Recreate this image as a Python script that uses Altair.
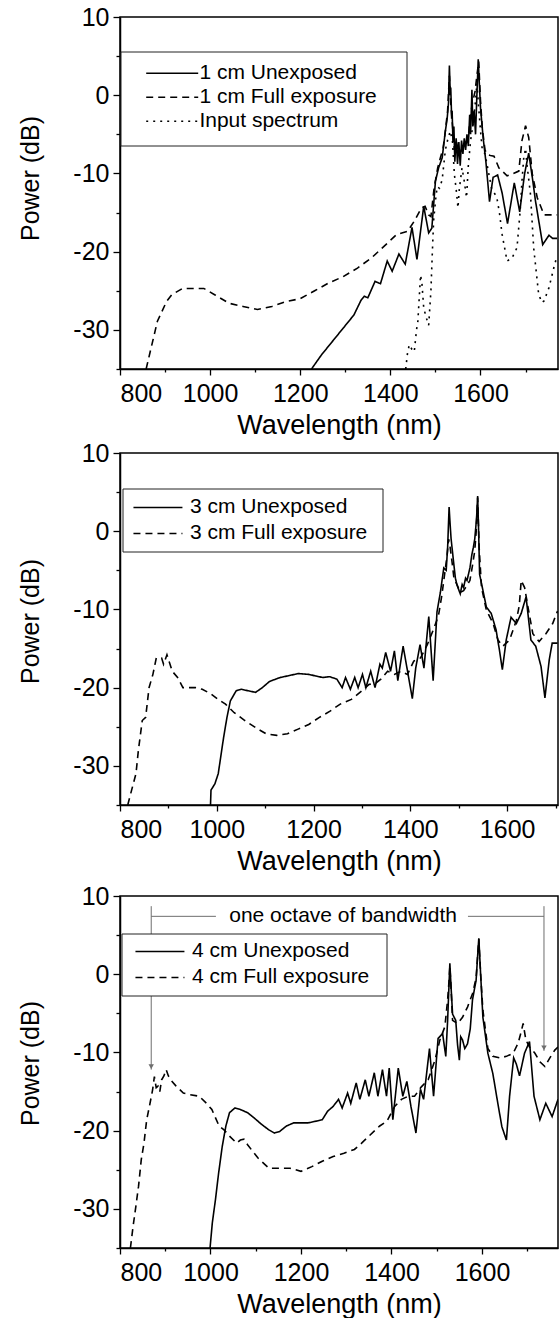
import altair as alt
import pandas as pd

FONT = "Liberation Sans"

# ---------------- Panel 1 (1 cm) ----------------
p1_labels = ["1 cm Unexposed", "1 cm Full exposure", "Input spectrum"]

p1_unexp_nm = [1225, 1247, 1271, 1295, 1319, 1335, 1342, 1350, 1366, 1378, 1393, 1404, 1419, 1433,
               1448, 1459, 1474, 1485, 1492, 1500, 1507, 1515, 1522, 1526, 1529, 1531, 1533, 1534,
               1536, 1537, 1539, 1541, 1543, 1546, 1549, 1552, 1555, 1558, 1561, 1564, 1567, 1570,
               1573, 1576, 1578, 1581, 1583, 1586, 1589, 1592, 1595, 1597, 1600, 1606, 1612, 1620,
               1628, 1638, 1648, 1660, 1675, 1687, 1698, 1707, 1715, 1722, 1738, 1745, 1752, 1760, 1770]
p1_unexp_db = [-35, -33.2, -31.5, -29.8, -28.1, -26.2, -25.7, -25.9, -23.8, -24.1, -21.2, -22.5, -20.3, -21.6,
               -16.9, -21.0, -14.2, -17.6, -17.0, -11.0, -9.3, -8.0, -4.6, -3.0, -1.0, 3.8, 0.0, 1.0,
               -3.0, -2.0, -6.0, -4.0, -8.5, -5.5, -8.8, -6.0, -9.0, -5.8, -7.5, -5.5, -7.0, -5.0,
               -6.5, -2.5, -5.0, 0.7, -4.0, -2.0, -5.0, 0.0, 4.6, 2.0, -1.6, -5.5, -8.5, -13.6,
               -10.5, -10.2, -12.5, -16.4, -11.2, -14.9, -10.0, -7.4, -10.5, -13.5, -19.1, -18.5, -17.9, -18.3, -18.3]

p1_full_nm = [858, 867, 883, 903, 915, 939, 962, 986, 1010, 1042, 1073, 1105, 1137, 1168, 1200, 1232,
              1263, 1295, 1327, 1358, 1390, 1414, 1438, 1453, 1469, 1477, 1485, 1490, 1497, 1505, 1511,
              1517, 1522, 1527, 1531, 1534, 1538, 1542, 1547, 1552, 1556, 1562, 1567, 1572, 1577, 1582,
              1588, 1592, 1596, 1600, 1604, 1610, 1615, 1622, 1630, 1641, 1659, 1673, 1685, 1692, 1700,
              1707, 1715, 1726, 1741, 1755, 1770]
p1_full_db = [-35, -32.8, -28.9, -26.4, -25.5, -24.7, -24.7, -24.7, -25.5, -26.6, -27.0, -27.4, -27.0, -26.4, -26.0, -25.0,
              -24.0, -23.2, -22.1, -20.8, -19.1, -17.8, -17.4, -16.1, -14.4, -14.2, -15.3, -15.5, -11.9, -9.3, -8.0,
              -6.8, -4.6, -2.0, 2.5, -1.0, -4.0, -7.0, -6.0, -7.5, -7.2, -6.5, -6.0, -5.9, -3.0, -1.0,
              0.5, 2.5, 4.3, -0.7, -4.2, -7.0, -7.6, -7.7, -7.8, -9.3, -10.3, -10.0, -9.7, -5.8, -3.9,
              -5.4, -10.1, -13.1, -15.3, -15.3, -15.3]

p1_input_nm = [1434, 1438, 1442, 1448, 1453, 1458, 1461, 1467, 1470, 1474, 1480, 1485, 1490, 1493, 1496,
               1501, 1504, 1509, 1515, 1522, 1528, 1533, 1538, 1542, 1546, 1550, 1553, 1559, 1564, 1569,
               1573, 1578, 1584, 1589, 1592, 1596, 1600, 1604, 1610, 1615, 1625, 1636, 1642, 1648, 1659,
               1670, 1681, 1688, 1692, 1696, 1700, 1703, 1711, 1718, 1729, 1736, 1741, 1752, 1763, 1770]
p1_input_db = [-35, -33.0, -31.9, -32.5, -32.8, -30.0, -28.9, -23.0, -24.0, -27.2, -28.5, -29.4, -25.0, -20.3, -16.0,
               -13.0, -11.7, -11.9, -10.8, -7.0, -5.5, -4.6, -6.0, -10.1, -12.0, -14.4, -12.0, -9.3, -11.0, -13.1,
               -9.0, -5.8, -3.5, -0.7, 1.5, -1.6, -4.5, -7.0, -7.5, -9.0, -12.0, -13.0, -15.0, -17.8, -21.2,
               -20.8, -19.5, -14.8, -11.0, -8.0, -6.8, -8.8, -12.7, -19.5, -25.4, -26.5, -26.3, -24.6, -22.0, -20.5]

# ---------------- Panel 2 (3 cm) ----------------
p2_labels = ["3 cm Unexposed", "3 cm Full exposure"]

p2_unexp_nm = [987, 988, 996, 1003, 1008, 1014, 1021, 1028, 1040, 1050, 1065, 1080, 1094, 1109, 1131, 1146,
               1168, 1190, 1204, 1219, 1233, 1248, 1259, 1266, 1276, 1285, 1292, 1301, 1308, 1318, 1327,
               1337, 1342, 1349, 1359, 1367, 1374, 1385, 1393, 1404, 1411, 1420, 1428, 1438, 1447, 1455,
               1462, 1469, 1474, 1477, 1480, 1482, 1484, 1489, 1493, 1496, 1500, 1503, 1507, 1510, 1514,
               1517, 1520, 1523, 1527, 1530, 1533, 1535, 1537, 1539, 1541, 1543, 1550, 1557, 1567, 1577,
               1584, 1590, 1598, 1608, 1619, 1629, 1639, 1649, 1659, 1670, 1678, 1687, 1693, 1704]
p2_unexp_db = [-35, -33.1, -32.3, -31.0, -28.9, -26.4, -23.8, -21.7, -20.4, -20.2, -20.4, -20.6, -20.0, -19.2, -18.7, -18.5,
               -18.2, -18.3, -18.5, -18.7, -18.6, -18.9, -20.0, -18.7, -20.2, -18.7, -20.0, -18.3, -20.0, -17.9, -20.0,
               -17.0, -17.5, -15.5, -17.9, -15.3, -19.1, -14.7, -17.5, -21.4, -17.5, -14.5, -17.5, -10.9, -19.1, -10.3,
               -7.8, -4.7, -5.0, -2.0, 3.1, 1.0, -0.9, -3.8, -6.0, -6.8, -7.5, -8.0, -6.8, -7.2, -6.0,
               -6.3, -5.5, -4.7, -3.0, -2.1, -1.0, 0.4, 2.0, 4.5, 0.0, -5.5, -7.6, -9.7, -10.5, -12.6,
               -15.2, -17.7, -13.9, -11.0, -11.8, -10.5, -8.4, -13.9, -14.7, -17.3, -21.3, -16.4, -14.3, -14.3]

p2_full_nm = [816, 824, 833, 838, 846, 853, 860, 868, 875, 886, 890, 897, 908, 919, 930, 941, 956, 970, 988,
              1003, 1018, 1036, 1058, 1080, 1102, 1124, 1146, 1168, 1190, 1212, 1234, 1255, 1278, 1300, 1314,
              1329, 1339, 1353, 1367, 1380, 1394, 1407, 1421, 1435, 1448, 1458, 1465, 1472, 1476, 1479, 1482,
              1486, 1490, 1496, 1503, 1510, 1516, 1523, 1528, 1533, 1536, 1539, 1542, 1547, 1557, 1571, 1581,
              1591, 1605, 1619, 1625, 1629, 1636, 1643, 1653, 1666, 1680, 1694, 1704]
p2_full_db = [-35, -33.1, -31.0, -28.0, -24.2, -23.8, -20.0, -18.3, -16.2, -16.2, -17.0, -15.8, -17.9, -18.7, -20.0, -20.0, -20.0, -20.2, -20.8,
              -21.5, -22.1, -23.2, -24.2, -25.1, -25.9, -26.1, -25.9, -25.3, -24.7, -23.8, -23.0, -22.1, -21.5, -20.4, -19.6,
              -19.4, -18.9, -17.9, -18.3, -17.9, -18.3, -16.6, -16.2, -14.5, -12.5, -10.8, -8.2, -4.9, -3.0, -1.0, -2.0,
              -3.9, -6.0, -6.8, -7.8, -7.6, -7.0, -6.3, -4.5, -2.5, 0.0, 4.3, -2.0, -7.2, -10.1, -11.8, -13.9,
              -14.7, -13.9, -11.4, -9.5, -6.3, -7.2, -9.7, -13.1, -14.1, -13.1, -11.8, -10.2]

# ---------------- Panel 3 (4 cm) ----------------
p3_labels = ["4 cm Unexposed", "4 cm Full exposure"]

p3_unexp_nm = [999, 1004, 1011, 1018, 1026, 1034, 1042, 1054, 1066, 1082, 1097, 1113, 1129, 1141, 1153, 1168,
               1184, 1200, 1216, 1232, 1247, 1259, 1271, 1283, 1291, 1303, 1310, 1322, 1330, 1342, 1350,
               1362, 1370, 1380, 1389, 1395, 1403, 1415, 1425, 1434, 1443, 1454, 1464, 1471, 1484, 1493,
               1503, 1513, 1520, 1524, 1529, 1532, 1535, 1542, 1546, 1550, 1553, 1557, 1562, 1568, 1574,
               1579, 1583, 1587, 1590, 1593, 1597, 1602, 1613, 1624, 1635, 1644, 1654, 1661, 1670, 1676,
               1683, 1694, 1705, 1715, 1728, 1741, 1755, 1768]
p3_unexp_db = [-35, -31.8, -28.8, -25.4, -22.0, -19.4, -17.7, -17.1, -17.3, -17.7, -18.4, -19.2, -19.9, -20.3, -20.1, -19.4,
               -19.0, -19.0, -19.0, -18.8, -18.6, -17.5, -16.9, -16.0, -17.1, -15.2, -16.5, -13.9, -16.0, -13.5, -15.6,
               -12.6, -15.6, -12.2, -15.6, -12.0, -18.6, -12.0, -15.6, -13.7, -16.9, -20.3, -14.7, -16.0, -9.5, -15.6,
               -8.2, -7.6, -10.5, -6.0, 1.4, -2.0, -5.1, -5.9, -9.0, -11.0, -8.0, -8.4, -9.5, -8.9, -7.0,
               -3.3, -2.0, -0.8, 2.0, 4.6, 0.0, -5.5, -10.1, -12.7, -16.5, -19.5, -21.2, -15.6, -10.7, -11.5,
               -13.0, -10.1, -8.6, -15.6, -18.6, -16.5, -18.2, -16.0]

p3_full_nm = [823, 829, 835, 841, 847, 853, 859, 865, 872, 876, 880, 884, 888, 892, 897, 902, 907, 912, 924,
              940, 955, 975, 991, 1003, 1019, 1030, 1042, 1058, 1066, 1074, 1082, 1090, 1105, 1129, 1153, 1176,
              1200, 1224, 1247, 1271, 1295, 1318, 1334, 1350, 1374, 1390, 1407, 1422, 1437, 1451, 1466, 1481,
              1496, 1507, 1518, 1524, 1527, 1529, 1531, 1535, 1546, 1557, 1568, 1579, 1587, 1593, 1597, 1602,
              1613, 1624, 1639, 1654, 1669, 1680, 1686, 1691, 1697, 1705, 1717, 1728, 1739, 1750, 1761, 1768]
p3_full_db = [-35, -32.2, -29.7, -27.1, -23.7, -21.6, -18.6, -16.9, -14.8, -13.1, -14.5, -14.3, -15.0, -13.5, -13.0, -12.2, -13.0, -13.5, -14.3,
              -15.2, -15.4, -15.6, -16.5, -17.3, -19.4, -19.9, -20.7, -21.6, -21.2, -21.1, -21.8, -22.4, -23.5, -24.8, -24.8, -24.8,
              -25.2, -24.6, -23.9, -23.3, -22.9, -22.4, -21.6, -20.7, -19.4, -18.8, -16.9, -16.0, -15.6, -15.6, -14.4, -13.5,
              -11.0, -8.4, -6.7, -3.3, -1.0, 1.0, -1.0, -5.9, -6.3, -5.5, -4.2, -2.5, -0.5, 4.5, 0.0, -4.6,
              -9.5, -10.5, -10.7, -10.5, -10.1, -8.8, -7.5, -6.3, -8.4, -9.3, -10.1, -11.2, -11.8, -10.7, -9.7, -9.3]

# octave annotation (panel 3)
octave_ends_nm = [869, 1737]
octave_gap_nm = [1012, 1569]
octave_level_db = 7.4
octave_cap_db = 8.7
octave_tip_db = [-12.2, -9.8]
octave_text = "one octave of bandwidth"
octave_text_nm = 1293

# axis ticks
x_major = [800, 1000, 1200, 1400, 1600]
x_minor = [900, 1100, 1300, 1500, 1700]
y_major = [10, 0, -10, -20, -30]
y_minor = [5, -5, -15, -25, -35]

DASHES = [[1, 0], [7, 5], [2, 5]]
W, H = 438, 352
GRAY = "#6e6e6e"
LEG_PATH = "M-2,0H2"


def make_df(series):
    rows = []
    for label, xs, ys in series:
        for x, y in zip(xs, ys):
            rows.append({"series": label, "nm": x, "db": y})
    return pd.DataFrame(rows)


def panel(df, labels, xmax, leg, box, title_y, extra=None):
    # leg = (legendX, legendY, symbolSize, labelOffset, rowPadding)
    xs = alt.Scale(domain=[800, xmax], nice=False, zero=False)
    ys = alt.Scale(domain=[-35, 10], nice=False, zero=False)
    lines = alt.Chart(df).mark_line(color="black", strokeWidth=1.6, clip=True).encode(
        x=alt.X("nm:Q", scale=xs,
                axis=alt.Axis(orient="bottom", values=x_major, tickSize=6, labelPadding=6,
                              labelExpr="'' + datum.value", title="Wavelength (nm)",
                              titleFontSize=27, titleY=64, titleBaseline="alphabetic")),
        y=alt.Y("db:Q", scale=ys,
                axis=alt.Axis(orient="left", values=y_major, tickSize=7, labelPadding=4,
                              labelExpr="'' + datum.value", title="Power (dB)",
                              titleFontSize=25, titleX=-77, titleY=title_y,
                              titleBaseline="bottom", titleAngle=270)),
        strokeDash=alt.StrokeDash(
            "series:N",
            scale=alt.Scale(domain=labels, range=DASHES[:len(labels)]),
            legend=alt.Legend(orient="none", legendX=leg[0], legendY=leg[1], title=None,
                              symbolType=LEG_PATH, symbolSize=leg[2], symbolStrokeWidth=1.6,
                              symbolStrokeColor="black", labelFont=FONT, labelFontSize=21,
                              labelColor="black", labelOffset=leg[3], labelLimit=0,
                              rowPadding=leg[4], padding=0),
        ),
    )
    minor = alt.Chart(df).mark_line(strokeOpacity=0).encode(
        x=alt.X("nm:Q", scale=xs,
                axis=alt.Axis(orient="bottom", values=x_minor, tickSize=3, labels=False,
                              domain=False, title=None)),
        y=alt.Y("db:Q", scale=ys,
                axis=alt.Axis(orient="left", values=y_minor, tickSize=4, labels=False,
                              domain=False, title=None)),
    )
    rect = alt.Chart(alt.Data(values=[{}])).mark_rect(fill="white", stroke="#222", strokeWidth=1).encode(
        x=alt.value(box[0]), x2=alt.value(box[1]), y=alt.value(box[2]), y2=alt.value(box[3]))
    layers = [lines, minor]
    if extra:
        layers += extra
    layers.append(rect)
    return alt.layer(*layers).resolve_axis(x="independent", y="independent").properties(width=W, height=H)


df1 = make_df([(p1_labels[0], p1_unexp_nm, p1_unexp_db),
               (p1_labels[1], p1_full_nm, p1_full_db),
               (p1_labels[2], p1_input_nm, p1_input_db)])
df2 = make_df([(p2_labels[0], p2_unexp_nm, p2_unexp_db),
               (p2_labels[1], p2_full_nm, p2_full_db)])
df3 = make_df([(p3_labels[0], p3_unexp_nm, p3_unexp_db),
               (p3_labels[1], p3_full_nm, p3_full_db)])

# octave bracket layers
seg_df = pd.DataFrame({
    "nm": [octave_ends_nm[0], octave_gap_nm[1], octave_ends_nm[0], octave_ends_nm[1]],
    "nm2": [octave_gap_nm[0], octave_ends_nm[1], octave_ends_nm[0], octave_ends_nm[1]],
    "db": [octave_level_db, octave_level_db, octave_cap_db, octave_cap_db],
    "db2": [octave_level_db, octave_level_db, octave_tip_db[0], octave_tip_db[1]],
})
tip_df = pd.DataFrame({"nm": octave_ends_nm, "db": octave_tip_db})
txt_df = pd.DataFrame({"nm": [octave_text_nm], "db": [octave_level_db], "t": [octave_text]})

segs = alt.Chart(seg_df).mark_rule(color=GRAY, strokeWidth=1).encode(
    x=alt.X("nm:Q", axis=None), x2="nm2:Q", y=alt.Y("db:Q", axis=None), y2="db2:Q")
tips = alt.Chart(tip_df).mark_point(shape="triangle-down", filled=True, color=GRAY, size=30,
                                    opacity=1, yOffset=-3).encode(
    x=alt.X("nm:Q", axis=None), y=alt.Y("db:Q", axis=None))
txt = alt.Chart(txt_df).mark_text(font=FONT, fontSize=21, color="black", align="center",
                                  baseline="middle").encode(
    x=alt.X("nm:Q", axis=None), y=alt.Y("db:Q", axis=None), text="t:N")

p1 = panel(df1, p1_labels, 1772, (38.2, 42.2, 676, 13.2, 0), (1, 287, 35, 129), 161)
p2 = panel(df2, p2_labels, 1705, (24.45, 40.95, 600, 18.45, 2), (3, 263, 36, 99), 168)
p3 = panel(df3, p3_labels, 1768, (26.45, 41.95, 600, 18.45, 2), (2, 267, 38, 100), 167,
           extra=[segs, tips, txt])

inner = alt.vconcat(p2, p3, spacing=8).resolve_scale(strokeDash="independent")
chart = alt.vconcat(p1, inner, spacing=1).resolve_scale(strokeDash="independent").properties(
    padding={"left": 17, "top": 4, "right": 0, "bottom": 0}
).configure_view(stroke="black", strokeWidth=1.5).configure_axis(
    labelFont=FONT, labelFontSize=25, labelColor="black", titleFont=FONT, titleColor="black",
    titleFontWeight="normal", tickColor="black", domainColor="black", domainWidth=1.5, tickWidth=1.3,
    grid=False
).configure_legend(labelFont=FONT)

chart.save("out.html", embed_options={"renderer": "svg", "actions": False})
